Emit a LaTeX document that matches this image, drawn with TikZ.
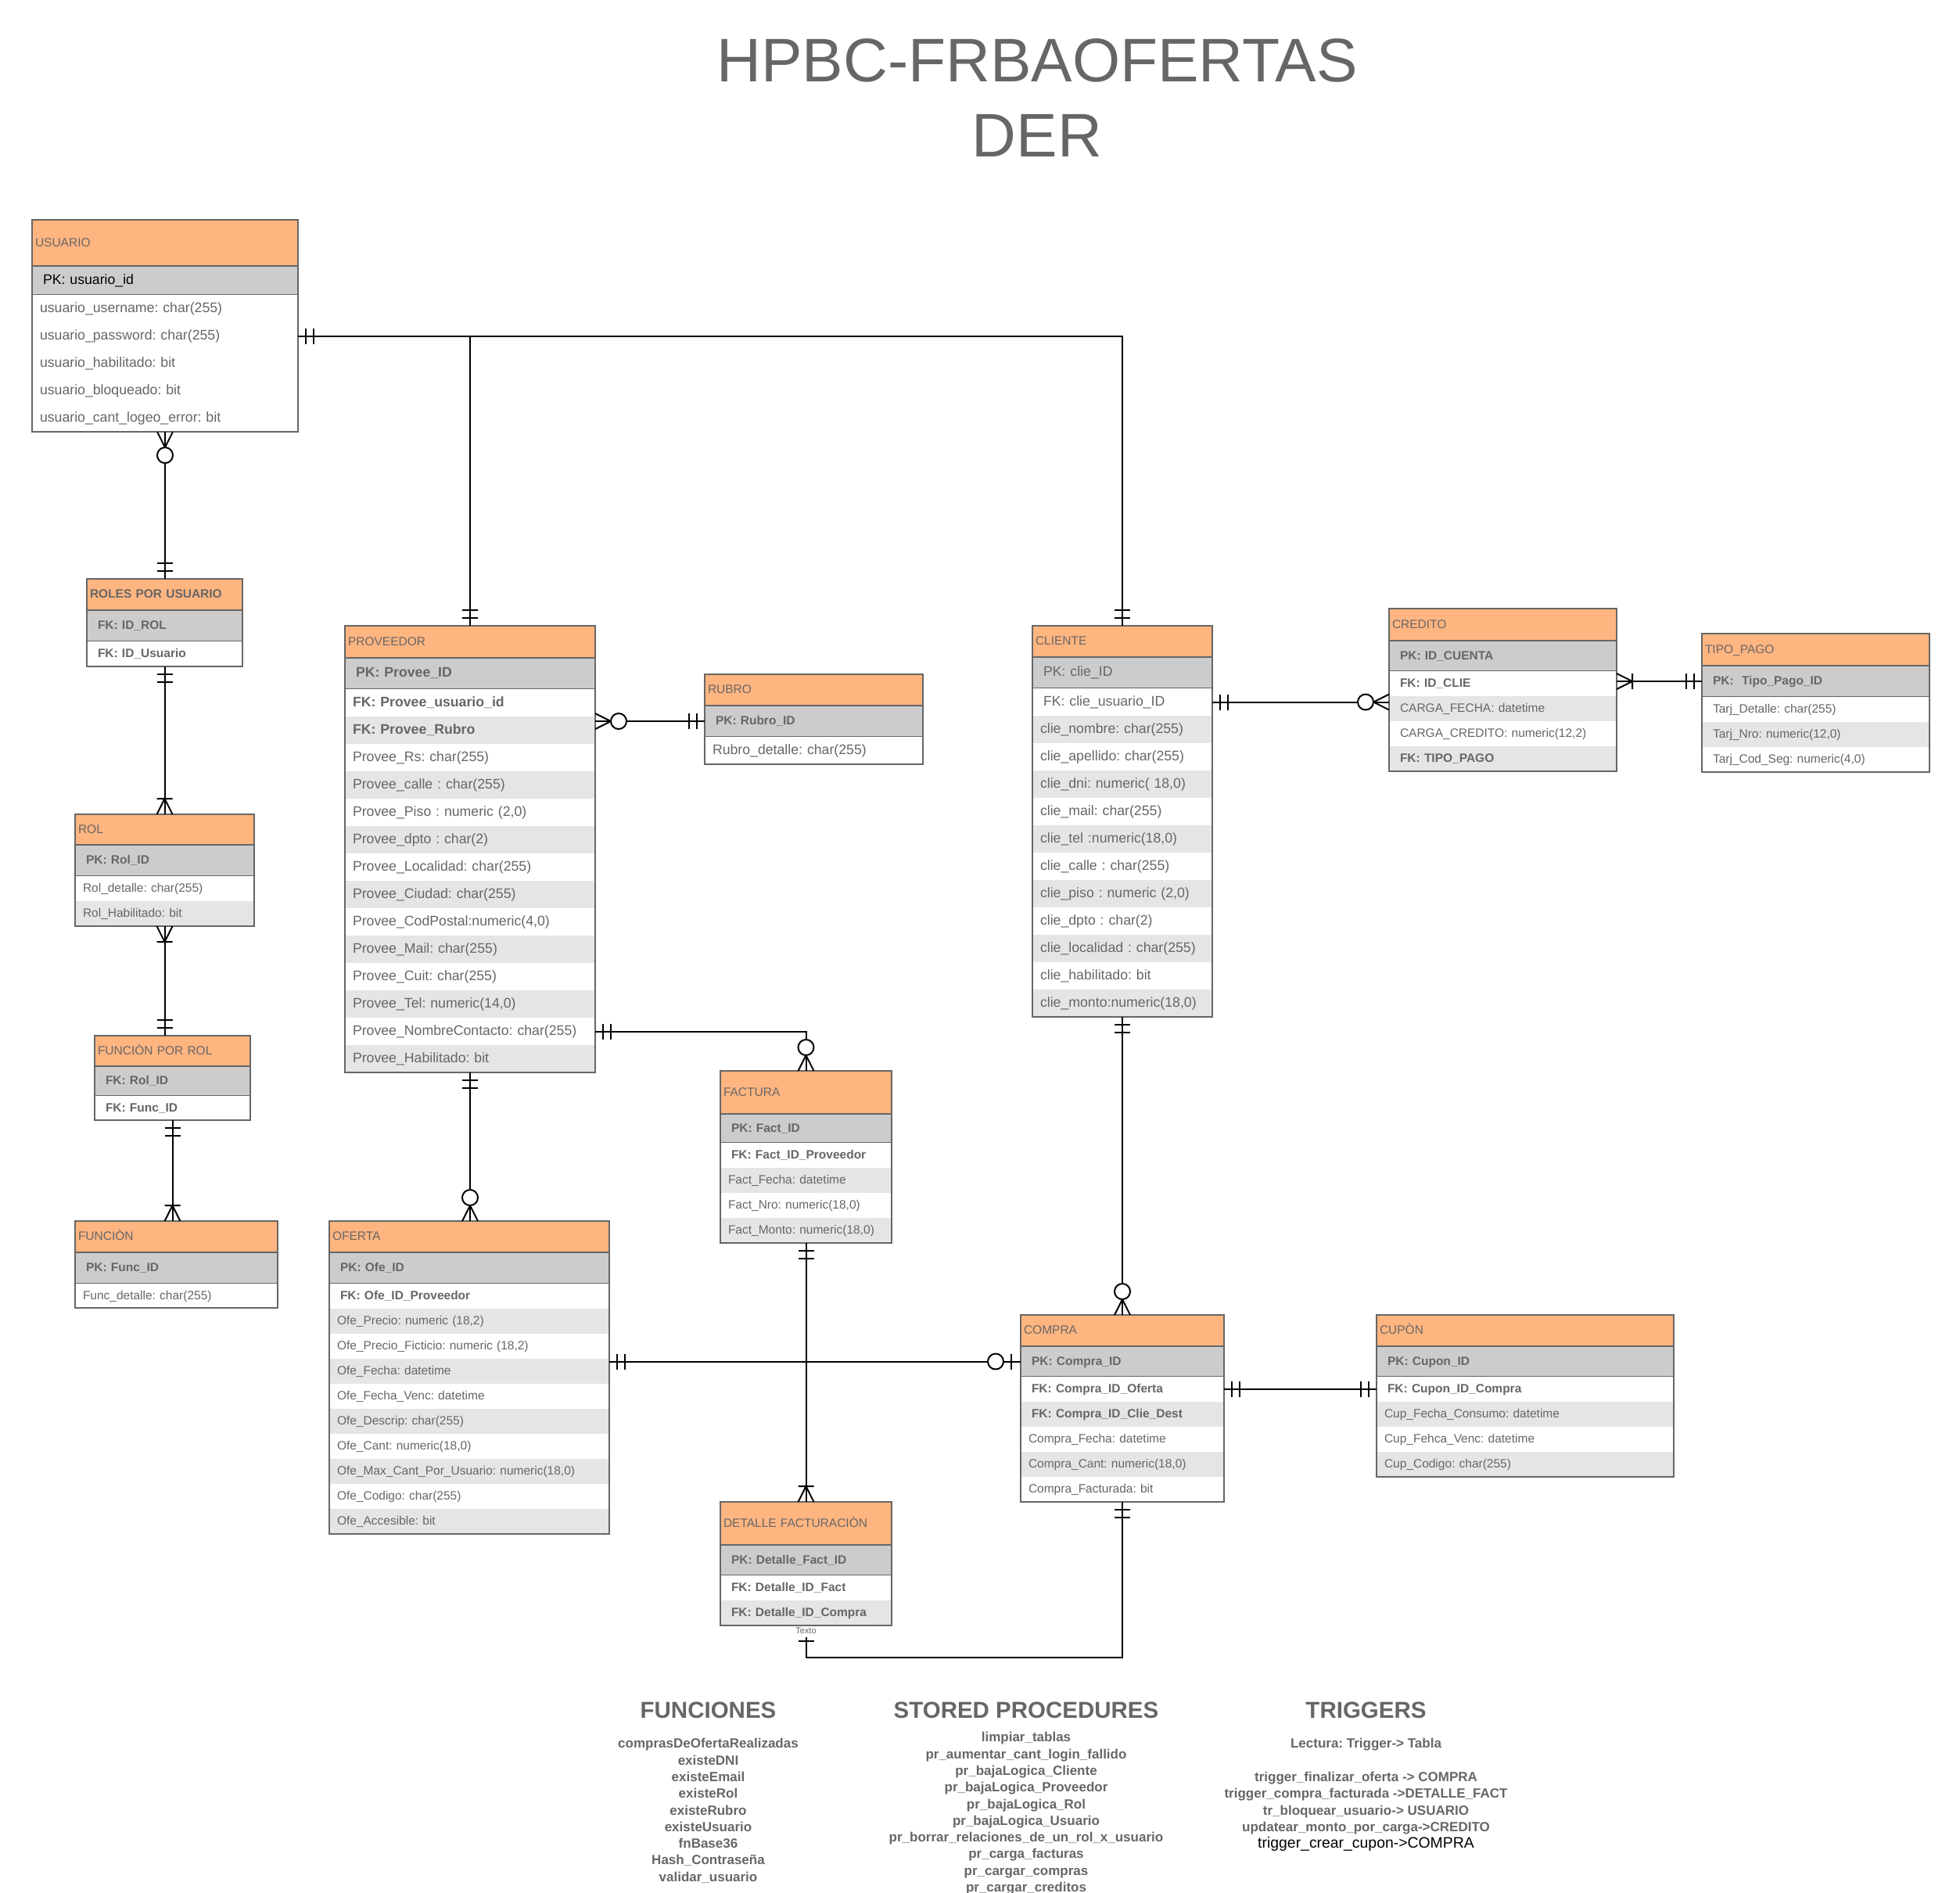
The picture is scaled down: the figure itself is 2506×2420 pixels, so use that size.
\documentclass[tikz,border=0pt]{standalone}
\usepackage{fontspec}
\setmainfont{Liberation Sans}
\usepackage{tikz}
\usetikzlibrary{positioning}
\frenchspacing

\definecolor{hdorange}{RGB}{255,181,128}
\definecolor{pkgray}{RGB}{204,204,204}
\definecolor{altgray}{RGB}{229,229,229}
\definecolor{txtgray}{RGB}{102,102,102}
\definecolor{linegray}{RGB}{102,102,102}

\newcommand{\fbig}{\fontsize{17.7}{21}\selectfont}
\newcommand{\fsml}{\fontsize{15.5}{18}\selectfont}

\tikzstyle{relline} = [draw=black, line width=2pt]
\tikzstyle{tblframe} = [draw=linegray, line width=1.3pt]
\tikzstyle{bigt} = [font=\fbig]
\tikzstyle{bigb} = [font=\fbig\bfseries]
\tikzstyle{smlb} = [font=\fsml\bfseries]
\tikzstyle{titulo} = [font=\fontsize{78.7}{96}\selectfont, text=txtgray, align=center, inner sep=0pt]
\tikzstyle{seccion} = [font=\fontsize{29.5}{34}\selectfont\bfseries, text=txtgray, inner sep=0pt]
\tikzstyle{lista} = [font=\fontsize{17}{21.3}\selectfont\bfseries, text=txtgray, align=center, inner sep=0pt]
\tikzstyle{texto} = [font=\fontsize{11}{13}\selectfont, text=txtgray, inner sep=0pt]

\tikzset{
  cell/.style={rectangle, inner xsep=0pt, inner ysep=0pt, outer sep=0pt, align=left,
    text=txtgray, text height=9pt, text depth=0pt, font=\fsml},
  thead/.style={cell, draw=linegray, line width=1.3pt, fill=hdorange, text width=#1,
    execute at begin node=\hspace*{4pt}},
  pkrow/.style={cell, draw=linegray, line width=1.3pt, fill=pkgray, text width=#1,
    execute at begin node=\hspace*{14pt}},
  attr/.style={cell, fill=white, text width=#1, execute at begin node=\hspace*{10pt}},
  attrg/.style={cell, fill=altgray, text width=#1, execute at begin node=\hspace*{10pt}},
  fkrow/.style={cell, fill=white, text width=#1, execute at begin node=\hspace*{14pt}},
  fkrowg/.style={cell, fill=altgray, text width=#1, execute at begin node=\hspace*{14pt}}
}

% crow's foot ends: point, direction away from the table
\newcommand{\mkone}[2]{\begin{scope}[shift={(#1)},rotate=#2]
  \draw[relline] (10,-10) -- (10,10) (20,-10) -- (20,10);
  \end{scope}}
\newcommand{\mkonemany}[2]{\begin{scope}[shift={(#1)},rotate=#2]
  \draw[relline] (0,10) -- (20,0) -- (0,-10) (20,-10) -- (20,10);
  \end{scope}}
\newcommand{\mkzeromany}[2]{\begin{scope}[shift={(#1)},rotate=#2]
  \draw[relline] (0,10) -- (20,0) -- (0,-10);
  \draw[relline, fill=white] (30,0) circle[radius=10pt];
  \end{scope}}
\newcommand{\mkzeroone}[2]{\begin{scope}[shift={(#1)},rotate=#2]
  \draw[relline] (12,-10) -- (12,10);
  \draw[relline, fill=white] (32,0) circle[radius=10pt];
  \end{scope}}

\begin{document}
\begin{tikzpicture}[x=1pt, y=1pt]
\useasboundingbox (0,0) rectangle (2506,-2420);

\node[titulo] (titulo) at (1326,-125) {HPBC-FRBAOFERTAS\\DER};

% USUARIO
\node[thead=340pt, minimum height=59pt, anchor=north west] (usuario) at (41,-281) {USUARIO};
\node[pkrow=340pt, minimum height=37pt, below=0pt of usuario, bigt, text=black] (usuario-pk) {PK: usuario\_id};
\node[attr=340pt, minimum height=35pt, below=0pt of usuario-pk, bigt] (usuario-1) {usuario\_username: char(255)};
\node[attr=340pt, minimum height=35pt, below=0pt of usuario-1, bigt] (usuario-2) {usuario\_password: char(255)};
\node[attr=340pt, minimum height=35pt, below=0pt of usuario-2, bigt] (usuario-3) {usuario\_habilitado: bit};
\node[attr=340pt, minimum height=35pt, below=0pt of usuario-3, bigt] (usuario-4) {usuario\_bloqueado: bit};
\node[attr=340pt, minimum height=35pt, below=0pt of usuario-4, bigt] (usuario-5) {usuario\_cant\_logeo\_error: bit};
\draw[tblframe] (usuario.north west) rectangle (usuario-5.south east);

% ROLES POR USUARIO
\node[thead=199pt, minimum height=40pt, anchor=north west, smlb] (roles) at (111,-740) {ROLES POR USUARIO};
\node[pkrow=199pt, minimum height=40pt, below=0pt of roles, smlb] (roles-pk) {FK: ID\_ROL};
\node[fkrow=199pt, minimum height=32pt, below=0pt of roles-pk, smlb] (roles-1) {FK: ID\_Usuario};
\draw[tblframe] (roles.north west) rectangle (roles-1.south east);

% ROL
\node[thead=229pt, minimum height=39pt, anchor=north west] (rol) at (96,-1041) {ROL};
\node[pkrow=229pt, minimum height=40pt, below=0pt of rol, smlb] (rol-pk) {PK: Rol\_ID};
\node[attr=229pt, minimum height=32pt, below=0pt of rol-pk] (rol-1) {Rol\_detalle: char(255)};
\node[attrg=229pt, minimum height=32pt, below=0pt of rol-1] (rol-2) {Rol\_Habilitado: bit};
\draw[tblframe] (rol.north west) rectangle (rol-2.south east);

% FUNCION POR ROL
\node[thead=199pt, minimum height=39pt, anchor=north west] (fxr) at (121,-1324) {FUNCIÒN POR ROL};
\node[pkrow=199pt, minimum height=38pt, below=0pt of fxr, smlb] (fxr-pk) {FK: Rol\_ID};
\node[fkrow=199pt, minimum height=31pt, below=0pt of fxr-pk, smlb] (fxr-1) {FK: Func\_ID};
\draw[tblframe] (fxr.north west) rectangle (fxr-1.south east);

% FUNCION
\node[thead=259pt, minimum height=40pt, anchor=north west] (funcion) at (96,-1561) {FUNCIÒN};
\node[pkrow=259pt, minimum height=40pt, below=0pt of funcion, smlb] (funcion-pk) {PK: Func\_ID};
\node[attr=259pt, minimum height=31pt, below=0pt of funcion-pk] (funcion-1) {Func\_detalle: char(255)};
\draw[tblframe] (funcion.north west) rectangle (funcion-1.south east);

% PROVEEDOR
\node[thead=320pt, minimum height=41pt, anchor=north west] (proveedor) at (441,-800) {PROVEEDOR};
\node[pkrow=320pt, minimum height=40pt, below=0pt of proveedor, bigb] (proveedor-pk) {PK: Provee\_ID};
\node[attr=320pt, minimum height=35pt, below=0pt of proveedor-pk, bigb] (proveedor-1) {FK: Provee\_usuario\_id};
\node[attrg=320pt, minimum height=35pt, below=0pt of proveedor-1, bigb] (proveedor-2) {FK: Provee\_Rubro};
\node[attr=320pt, minimum height=35pt, below=0pt of proveedor-2, bigt] (proveedor-3) {Provee\_Rs: char(255)};
\node[attrg=320pt, minimum height=35pt, below=0pt of proveedor-3, bigt] (proveedor-4) {Provee\_calle : char(255)};
\node[attr=320pt, minimum height=35pt, below=0pt of proveedor-4, bigt] (proveedor-5) {Provee\_Piso : numeric (2,0)};
\node[attrg=320pt, minimum height=35pt, below=0pt of proveedor-5, bigt] (proveedor-6) {Provee\_dpto : char(2)};
\node[attr=320pt, minimum height=35pt, below=0pt of proveedor-6, bigt] (proveedor-7) {Provee\_Localidad: char(255)};
\node[attrg=320pt, minimum height=35pt, below=0pt of proveedor-7, bigt] (proveedor-8) {Provee\_Ciudad: char(255)};
\node[attr=320pt, minimum height=35pt, below=0pt of proveedor-8, bigt] (proveedor-9) {Provee\_CodPostal:numeric(4,0)};
\node[attrg=320pt, minimum height=35pt, below=0pt of proveedor-9, bigt] (proveedor-10) {Provee\_Mail: char(255)};
\node[attr=320pt, minimum height=35pt, below=0pt of proveedor-10, bigt] (proveedor-11) {Provee\_Cuit: char(255)};
\node[attrg=320pt, minimum height=35pt, below=0pt of proveedor-11, bigt] (proveedor-12) {Provee\_Tel: numeric(14,0)};
\node[attr=320pt, minimum height=35pt, below=0pt of proveedor-12, bigt] (proveedor-13) {Provee\_NombreContacto: char(255)};
\node[attrg=320pt, minimum height=35pt, below=0pt of proveedor-13, bigt] (proveedor-14) {Provee\_Habilitado: bit};
\draw[tblframe] (proveedor.north west) rectangle (proveedor-14.south east);

% RUBRO
\node[thead=279pt, minimum height=40pt, anchor=north west] (rubro) at (901,-862) {RUBRO};
\node[pkrow=279pt, minimum height=40pt, below=0pt of rubro, smlb] (rubro-pk) {PK: Rubro\_ID};
\node[attr=279pt, minimum height=35pt, below=0pt of rubro-pk, bigt] (rubro-1) {Rubro\_detalle: char(255)};
\draw[tblframe] (rubro.north west) rectangle (rubro-1.south east);

% CLIENTE
\node[thead=230pt, minimum height=40pt, anchor=north west] (cliente) at (1320,-800) {CLIENTE};
\node[pkrow=230pt, minimum height=40pt, below=0pt of cliente, bigt] (cliente-pk) {PK: clie\_ID};
\node[fkrow=230pt, minimum height=35pt, below=0pt of cliente-pk, bigt] (cliente-1) {FK: clie\_usuario\_ID};
\node[attrg=230pt, minimum height=35pt, below=0pt of cliente-1, bigt] (cliente-2) {clie\_nombre: char(255)};
\node[attr=230pt, minimum height=35pt, below=0pt of cliente-2, bigt] (cliente-3) {clie\_apellido: char(255)};
\node[attrg=230pt, minimum height=35pt, below=0pt of cliente-3, bigt] (cliente-4) {clie\_dni: numeric( 18,0)};
\node[attr=230pt, minimum height=35pt, below=0pt of cliente-4, bigt] (cliente-5) {clie\_mail: char(255)};
\node[attrg=230pt, minimum height=35pt, below=0pt of cliente-5, bigt] (cliente-6) {clie\_tel :numeric(18,0)};
\node[attr=230pt, minimum height=35pt, below=0pt of cliente-6, bigt] (cliente-7) {clie\_calle : char(255)};
\node[attrg=230pt, minimum height=35pt, below=0pt of cliente-7, bigt] (cliente-8) {clie\_piso : numeric (2,0)};
\node[attr=230pt, minimum height=35pt, below=0pt of cliente-8, bigt] (cliente-9) {clie\_dpto : char(2)};
\node[attrg=230pt, minimum height=35pt, below=0pt of cliente-9, bigt] (cliente-10) {clie\_localidad : char(255)};
\node[attr=230pt, minimum height=35pt, below=0pt of cliente-10, bigt] (cliente-11) {clie\_habilitado: bit};
\node[attrg=230pt, minimum height=35pt, below=0pt of cliente-11, bigt] (cliente-12) {clie\_monto:numeric(18,0)};
\draw[tblframe] (cliente.north west) rectangle (cliente-12.south east);

% CREDITO
\node[thead=291pt, minimum height=41pt, anchor=north west] (credito) at (1776,-778) {CREDITO};
\node[pkrow=291pt, minimum height=39pt, below=0pt of credito, smlb] (credito-pk) {PK: ID\_CUENTA};
\node[fkrow=291pt, minimum height=32pt, below=0pt of credito-pk, smlb] (credito-1) {FK: ID\_CLIE};
\node[fkrowg=291pt, minimum height=32pt, below=0pt of credito-1] (credito-2) {CARGA\_FECHA: datetime};
\node[fkrow=291pt, minimum height=32pt, below=0pt of credito-2] (credito-3) {CARGA\_CREDITO: numeric(12,2)};
\node[fkrowg=291pt, minimum height=32pt, below=0pt of credito-3, smlb] (credito-4) {FK: TIPO\_PAGO};
\draw[tblframe] (credito.north west) rectangle (credito-4.south east);

% TIPO_PAGO
\node[thead=291pt, minimum height=41pt, anchor=north west] (tipopago) at (2176,-810) {TIPO\_PAGO};
\node[pkrow=291pt, minimum height=40pt, below=0pt of tipopago, smlb] (tipopago-pk) {PK:~ Tipo\_Pago\_ID};
\node[fkrow=291pt, minimum height=32pt, below=0pt of tipopago-pk] (tipopago-1) {Tarj\_Detalle: char(255)};
\node[fkrowg=291pt, minimum height=32pt, below=0pt of tipopago-1] (tipopago-2) {Tarj\_Nro: numeric(12,0)};
\node[fkrow=291pt, minimum height=32pt, below=0pt of tipopago-2] (tipopago-3) {Tarj\_Cod\_Seg: numeric(4,0)};
\draw[tblframe] (tipopago.north west) rectangle (tipopago-3.south east);

% FACTURA
\node[thead=219pt, minimum height=55pt, anchor=north west] (factura) at (921,-1369) {FACTURA};
\node[pkrow=219pt, minimum height=37pt, below=0pt of factura, smlb] (factura-pk) {PK: Fact\_ID};
\node[fkrow=219pt, minimum height=32pt, below=0pt of factura-pk, smlb] (factura-1) {FK: Fact\_ID\_Proveedor};
\node[attrg=219pt, minimum height=32pt, below=0pt of factura-1] (factura-2) {Fact\_Fecha: datetime};
\node[attr=219pt, minimum height=32pt, below=0pt of factura-2] (factura-3) {Fact\_Nro: numeric(18,0)};
\node[attrg=219pt, minimum height=32pt, below=0pt of factura-3] (factura-4) {Fact\_Monto: numeric(18,0)};
\draw[tblframe] (factura.north west) rectangle (factura-4.south east);

% DETALLE FACTURACION
\node[thead=219pt, minimum height=55pt, anchor=north west] (detalle) at (921,-1920) {DETALLE FACTURACIÒN};
\node[pkrow=219pt, minimum height=39pt, below=0pt of detalle, smlb] (detalle-pk) {PK: Detalle\_Fact\_ID};
\node[fkrow=219pt, minimum height=32pt, below=0pt of detalle-pk, smlb] (detalle-1) {FK: Detalle\_ID\_Fact};
\node[fkrowg=219pt, minimum height=32pt, below=0pt of detalle-1, smlb] (detalle-2) {FK: Detalle\_ID\_Compra};
\draw[tblframe] (detalle.north west) rectangle (detalle-2.south east);
\node[texto] (texto) at (1030.5,-2084.5) {Texto};
\coordinate (detalle-end) at (1030.5,-2093);

% OFERTA
\node[thead=358pt, minimum height=40pt, anchor=north west] (oferta) at (421,-1561) {OFERTA};
\node[pkrow=358pt, minimum height=40pt, below=0pt of oferta, smlb] (oferta-pk) {PK: Ofe\_ID};
\node[fkrow=358pt, minimum height=32pt, below=0pt of oferta-pk, smlb] (oferta-1) {FK: Ofe\_ID\_Proveedor};
\node[attrg=358pt, minimum height=32pt, below=0pt of oferta-1] (oferta-2) {Ofe\_Precio: numeric (18,2)};
\node[attr=358pt, minimum height=32pt, below=0pt of oferta-2] (oferta-3) {Ofe\_Precio\_Ficticio: numeric (18,2)};
\node[attrg=358pt, minimum height=32pt, below=0pt of oferta-3] (oferta-4) {Ofe\_Fecha: datetime};
\node[attr=358pt, minimum height=32pt, below=0pt of oferta-4] (oferta-5) {Ofe\_Fecha\_Venc: datetime};
\node[attrg=358pt, minimum height=32pt, below=0pt of oferta-5] (oferta-6) {Ofe\_Descrip: char(255)};
\node[attr=358pt, minimum height=32pt, below=0pt of oferta-6] (oferta-7) {Ofe\_Cant: numeric(18,0)};
\node[attrg=358pt, minimum height=32pt, below=0pt of oferta-7] (oferta-8) {Ofe\_Max\_Cant\_Por\_Usuario: numeric(18,0)};
\node[attr=358pt, minimum height=32pt, below=0pt of oferta-8] (oferta-9) {Ofe\_Codigo: char(255)};
\node[attrg=358pt, minimum height=32pt, below=0pt of oferta-9] (oferta-10) {Ofe\_Accesible: bit};
\draw[tblframe] (oferta.north west) rectangle (oferta-10.south east);

% COMPRA
\node[thead=260pt, minimum height=40pt, anchor=north west] (compra) at (1305,-1681) {COMPRA};
\node[pkrow=260pt, minimum height=39pt, below=0pt of compra, smlb] (compra-pk) {PK: Compra\_ID};
\node[fkrow=260pt, minimum height=32pt, below=0pt of compra-pk, smlb] (compra-1) {FK: Compra\_ID\_Oferta};
\node[fkrowg=260pt, minimum height=32pt, below=0pt of compra-1, smlb] (compra-2) {FK: Compra\_ID\_Clie\_Dest};
\node[attr=260pt, minimum height=32pt, below=0pt of compra-2] (compra-3) {Compra\_Fecha: datetime};
\node[attrg=260pt, minimum height=32pt, below=0pt of compra-3] (compra-4) {Compra\_Cant: numeric(18,0)};
\node[attr=260pt, minimum height=32pt, below=0pt of compra-4] (compra-5) {Compra\_Facturada: bit};
\draw[tblframe] (compra.north west) rectangle (compra-5.south east);

% CUPON
\node[thead=380pt, minimum height=40pt, anchor=north west] (cupon) at (1760,-1681) {CUPÒN};
\node[pkrow=380pt, minimum height=39pt, below=0pt of cupon, smlb] (cupon-pk) {PK: Cupon\_ID};
\node[fkrow=380pt, minimum height=32pt, below=0pt of cupon-pk, smlb] (cupon-1) {FK: Cupon\_ID\_Compra};
\node[attrg=380pt, minimum height=32pt, below=0pt of cupon-1] (cupon-2) {Cup\_Fecha\_Consumo: datetime};
\node[attr=380pt, minimum height=32pt, below=0pt of cupon-2] (cupon-3) {Cup\_Fehca\_Venc: datetime};
\node[attrg=380pt, minimum height=32pt, below=0pt of cupon-3] (cupon-4) {Cup\_Codigo: char(255)};
\draw[tblframe] (cupon.north west) rectangle (cupon-4.south east);

% relaciones
\draw[relline] (usuario-5.south) -- (usuario-5.south |- roles.north);
\mkzeromany{usuario-5.south}{-90}
\mkone{usuario-5.south |- roles.north}{90}

\draw[relline] (roles-1.south) -- (roles-1.south |- rol.north);
\mkone{roles-1.south}{-90}
\mkonemany{roles-1.south |- rol.north}{90}

\draw[relline] (rol-2.south) -- (rol-2.south |- fxr.north);
\mkonemany{rol-2.south}{-90}
\mkone{rol-2.south |- fxr.north}{90}

\draw[relline] (fxr-1.south) -- (fxr-1.south |- funcion.north);
\mkone{fxr-1.south}{-90}
\mkonemany{fxr-1.south |- funcion.north}{90}

\draw[relline] (usuario-2.east) -| (proveedor.north);
\draw[relline] (usuario-2.east) -| (cliente.north);
\mkone{usuario-2.east}{0}
\mkone{proveedor.north}{90}
\mkone{cliente.north}{90}

\draw[relline] (rubro-pk.west) -- (rubro-pk.west -| proveedor.east);
\mkone{rubro-pk.west}{180}
\mkzeromany{rubro-pk.west -| proveedor.east}{0}

\draw[relline] (proveedor-13.east) -| (factura.north);
\mkone{proveedor-13.east}{0}
\mkzeromany{factura.north}{90}

\draw[relline] (proveedor-14.south) -- (proveedor-14.south |- oferta.north);
\mkone{proveedor-14.south}{-90}
\mkzeromany{proveedor-14.south |- oferta.north}{90}

\draw[relline] (cliente-1.east) -- (cliente-1.east -| credito.west);
\mkone{cliente-1.east}{0}
\mkzeromany{cliente-1.east -| credito.west}{180}

\draw[relline] (tipopago-pk.west) -- (tipopago-pk.west -| credito.east);
\mkone{tipopago-pk.west}{180}
\mkonemany{tipopago-pk.west -| credito.east}{0}

\draw[relline] (cliente-12.south) -- (cliente-12.south |- compra.north);
\mkone{cliente-12.south}{-90}
\mkzeromany{cliente-12.south |- compra.north}{90}

\draw[relline] (compra-pk.west) -- (compra-pk.west -| oferta.east);
\mkone{compra-pk.west -| oferta.east}{0}
\mkzeroone{compra-pk.west}{180}

\draw[relline] (factura-4.south) -- (detalle.north);
\mkone{factura-4.south}{-90}
\mkonemany{detalle.north}{90}

\draw[relline] (compra-1.east) -- (cupon-1.west);
\mkone{compra-1.east}{0}
\mkone{cupon-1.west}{180}

\draw[relline] (compra-5.south) -- (compra-5.south |- 0,-2119) -| (detalle-end);
\mkone{compra-5.south}{-90}
\draw[relline] ([xshift=-10pt, yshift=-5pt]detalle-end) -- ([xshift=10pt, yshift=-5pt]detalle-end);

% funciones, procedures, triggers
\node[seccion] (funciones) at (905.5,-2186.7) {FUNCIONES};
\node[lista, below=25pt of funciones] (funciones-lista) {comprasDeOfertaRealizadas\\existeDNI\\existeEmail\\existeRol\\existeRubro\\existeUsuario\\fnBase36\\Hash\_Contraseña\\validar\_usuario};

\node[seccion] (procedures) at (1312,-2186.7) {STORED PROCEDURES};
\node[lista, below=17pt of procedures] (procedures-lista) {limpiar\_tablas\\pr\_aumentar\_cant\_login\_fallido\\pr\_bajaLogica\_Cliente\\pr\_bajaLogica\_Proveedor\\pr\_bajaLogica\_Rol\\pr\_bajaLogica\_Usuario\\pr\_borrar\_relaciones\_de\_un\_rol\_x\_usuario\\pr\_carga\_facturas\\pr\_cargar\_compras\\pr\_cargar\_creditos};

\node[seccion] (triggers) at (1746.5,-2186.7) {TRIGGERS};
\node[lista, below=25pt of triggers] (triggers-lista) {Lectura: Trigger-> Tabla\\[21.3pt]trigger\_finalizar\_oferta -> COMPRA\\trigger\_compra\_facturada ->DETALLE\_FACT\\tr\_bloquear\_usuario-> USUARIO\\updatear\_monto\_por\_carga->CREDITO\\{\color{black}\mdseries\fontsize{19.4}{21.3}\selectfont trigger\_crear\_cupon->COMPRA}};
\end{tikzpicture}
\end{document}
